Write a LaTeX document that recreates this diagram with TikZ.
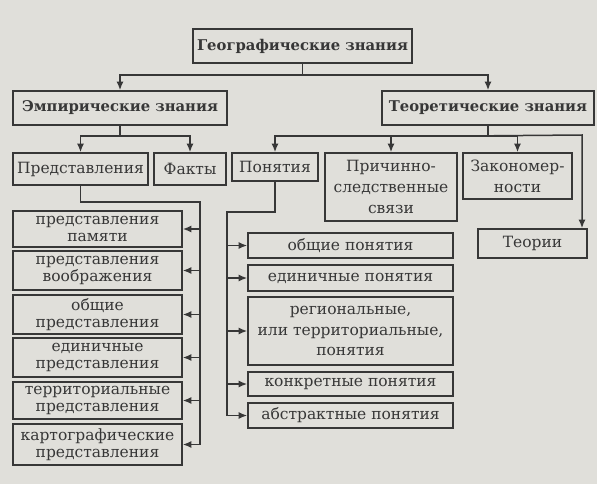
\documentclass[tikz,border=0pt]{standalone}
\usepackage{fontspec}
\setmainfont{DejaVu Serif}
\usetikzlibrary{arrows.meta,positioning,calc}
\definecolor{paper}{RGB}{224,223,218}
\definecolor{ink}{RGB}{55,55,55}

\begin{document}
\begin{tikzpicture}[x=1pt, y=-1pt,
    box/.style={rectangle, draw=ink, line width=1.6pt, inner sep=0pt, align=center, text=ink, font=\fontsize{15.5}{16.5}\selectfont},
    headbox/.style={box, minimum height=34pt, font=\fontsize{14.8}{17}\selectfont\bfseries},
    topbox/.style={box, font=\fontsize{15.5}{21}\selectfont},
    lbox/.style={box, minimum width=169pt},
    rbox/.style={box, minimum width=205pt, font=\fontsize{15.5}{20.5}\selectfont},
    link/.style={draw=ink, line width=1.5pt},
    arr/.style={link, -{Latex[length=8.5pt,width=7pt]}},
]
\useasboundingbox[fill=paper] (0,0) rectangle (597,484);

% Top level
\node[headbox, minimum width=219pt] (geo) at (302.5,46) {Географические знания};

% Second level
\node[headbox, minimum width=214pt] (emp) at (120,108) {Эмпирические знания};
\node[headbox, minimum width=212pt] (teor) at (488,108) {Теоретические знания};
\draw[arr] (geo.south) -- ++(0,11) -| (emp.north);
\draw[arr] (geo.south) -- ++(0,11) -| (teor.north);

% Empirical branch
\node[topbox, minimum width=135pt, minimum height=32pt] (predst) at (80.5,169) {Представления};
\node[topbox, minimum width=72pt, minimum height=32pt] (fakty) at (190,169) {Факты};
\draw[arr] (emp.south) -- ++(0,10) -| (predst.north);
\draw[arr] (emp.south) -- ++(0,10) -| (fakty.north);

% Theoretical branch
\node[topbox, minimum width=86pt, minimum height=28pt] (pon) at (275,167) {Понятия};
\node[topbox, minimum width=132pt, minimum height=68pt] (prich) at (391,187) {Причинно-\\следственные\\связи};
\node[topbox, minimum width=109pt, minimum height=46pt] (zakon) at (517.5,176) {Закономер-\\ности};
\node[topbox, minimum width=109pt, minimum height=29pt] (teorii) at (532.5,243.5) {Теории};
\coordinate (tcorner) at (582,135);
\draw[arr] (teor.south) -- ++(0,10) -| (pon.north);
\draw[arr] (teor.south) -- ++(0,10) -| (prich.north);
\draw[arr] (teor.south) -- ++(0,10) -| (zakon.north);
\draw[arr] (teor.south) -- ++(0,10) -- (tcorner) -- (tcorner |- teorii.north);

% Kinds of representations
\node[lbox, minimum height=36pt] (pam) at (97.5,229) {представления\\памяти};
\node[lbox, minimum height=39pt] (voob) at (97.5,270.5) {представления\\воображения};
\node[lbox, minimum height=39pt] (obsh) at (97.5,314.5) {общие\\представления};
\node[lbox, minimum height=39pt] (edin) at (97.5,357.5) {единичные\\представления};
\node[lbox, minimum height=37pt] (terr) at (97.5,400.5) {территориальные\\представления};
\node[lbox, minimum height=41pt] (kart) at (97.5,444.5) {картографические\\представления};
\coordinate (lbus) at (200,202);
\draw[arr] (predst.south) |- (lbus) -- (lbus |- kart.east) -- (kart.east);
\foreach \n in {pam,voob,obsh,edin,terr}
  \draw[arr] (lbus |- \n.east) -- (\n.east);

% Kinds of concepts
\node[rbox, minimum height=25pt] (obpon) at (350.5,245.5) {общие понятия};
\node[rbox, minimum height=26pt] (edpon) at (350.5,278) {единичные понятия};
\node[rbox, minimum height=68pt] (regpon) at (350.5,331) {региональные,\\или территориальные,\\понятия};
\node[rbox, minimum height=24pt] (konpon) at (350.5,384) {конкретные понятия};
\node[rbox, minimum height=25pt] (abspon) at (350.5,415.5) {абстрактные понятия};
\coordinate (rbus) at (227,212);
\draw[arr] (pon.south) |- (rbus) -- (rbus |- abspon.west) -- (abspon.west);
\foreach \n in {obpon,edpon,regpon,konpon}
  \draw[arr] (rbus |- \n.west) -- (\n.west);

\end{tikzpicture}
\end{document}
